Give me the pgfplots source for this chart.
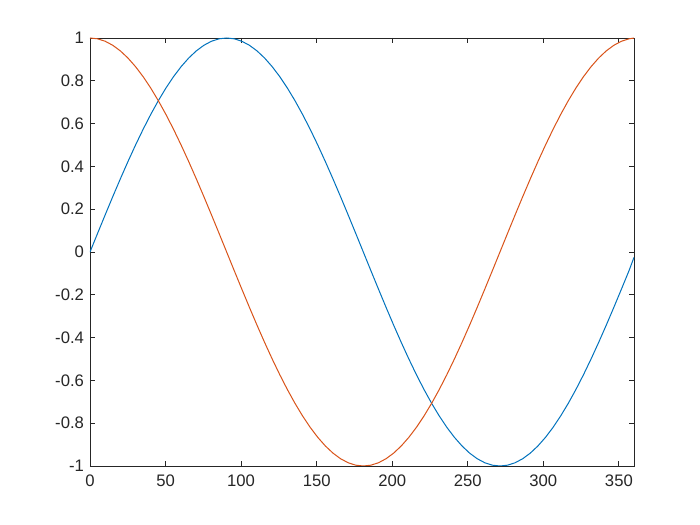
\documentclass[border=0pt]{standalone}
\usepackage{pgfplots}
\pgfplotsset{compat=1.18}
\usepackage{fontspec}
\setmainfont{Liberation Sans}
\definecolor{mblue}{rgb}{0,0.447,0.741}
\definecolor{morange}{rgb}{0.85,0.325,0.098}
\definecolor{maxis}{rgb}{0.15,0.15,0.15}
\pgfplotstableread{
x y
0 0
5.024 0.0872
10.048 0.1736
15.072 0.2588
20.096 0.3420
25.12 0.4226
30.144 0.5
35.168 0.5736
40.192 0.6428
45.216 0.7071
50.24 0.7660
55.264 0.8192
60.288 0.8660
65.312 0.9063
70.336 0.9397
75.36 0.9659
80.384 0.9848
85.408 0.9962
90.432 1
95.456 0.9962
100.48 0.9848
105.504 0.9659
110.528 0.9397
115.552 0.9063
120.576 0.8660
125.6 0.8192
130.624 0.7660
135.648 0.7071
140.672 0.6428
145.696 0.5736
150.72 0.5
155.744 0.4226
160.768 0.3420
165.792 0.2588
170.816 0.1736
175.84 0.0872
180.864 0
185.888 -0.0872
190.912 -0.1736
195.936 -0.2588
200.96 -0.3420
205.984 -0.4226
211.008 -0.5
216.032 -0.5736
221.056 -0.6428
226.08 -0.7071
231.104 -0.7660
236.128 -0.8192
241.152 -0.8660
246.176 -0.9063
251.2 -0.9397
256.224 -0.9659
261.248 -0.9848
266.272 -0.9962
271.296 -1
276.32 -0.9962
281.344 -0.9848
286.368 -0.9659
291.392 -0.9397
296.416 -0.9063
301.44 -0.8660
306.464 -0.8192
311.488 -0.7660
316.512 -0.7071
321.536 -0.6428
326.56 -0.5736
331.584 -0.5
336.608 -0.4226
341.632 -0.3420
346.656 -0.2588
351.68 -0.1736
356.704 -0.0872
360 -0.025
}\sintab
\pgfplotstableread{
x y
0 1
5.024 0.9962
10.048 0.9848
15.072 0.9659
20.096 0.9397
25.12 0.9063
30.144 0.8660
35.168 0.8192
40.192 0.7660
45.216 0.7071
50.24 0.6428
55.264 0.5736
60.288 0.5
65.312 0.4226
70.336 0.3420
75.36 0.2588
80.384 0.1736
85.408 0.0872
90.432 0
95.456 -0.0872
100.48 -0.1736
105.504 -0.2588
110.528 -0.3420
115.552 -0.4226
120.576 -0.5
125.6 -0.5736
130.624 -0.6428
135.648 -0.7071
140.672 -0.7660
145.696 -0.8192
150.72 -0.8660
155.744 -0.9063
160.768 -0.9397
165.792 -0.9659
170.816 -0.9848
175.84 -0.9962
180.864 -1
185.888 -0.9962
190.912 -0.9848
195.936 -0.9659
200.96 -0.9397
205.984 -0.9063
211.008 -0.8660
216.032 -0.8192
221.056 -0.7660
226.08 -0.7071
231.104 -0.6428
236.128 -0.5736
241.152 -0.5
246.176 -0.4226
251.2 -0.3420
256.224 -0.2588
261.248 -0.1736
266.272 -0.0872
271.296 0
276.32 0.0872
281.344 0.1736
286.368 0.2588
291.392 0.3420
296.416 0.4226
301.44 0.5
306.464 0.5736
311.488 0.6428
316.512 0.7071
321.536 0.7660
326.56 0.8192
331.584 0.8660
336.608 0.9063
341.632 0.9397
346.656 0.9659
351.68 0.9848
356.704 0.9962
360 0.9997
}\costab
\begin{document}
\begin{tikzpicture}
\fill[white] (0,0) rectangle (525pt,393.75pt);
\begin{axis}[
  at={(67.5pt,44.25pt)}, anchor=south west,
  scale only axis, width=408pt, height=321pt,
  xmin=0, xmax=360, ymin=-1, ymax=1,
  xtick={0,50,...,350},
  ytick={-1,-0.8,-0.6,-0.4,-0.2,0,0.2,0.4,0.6,0.8,1},
  xticklabels={0,50,100,150,200,250,300,350},
  yticklabels={-1,-0.8,-0.6,-0.4,-0.2,0,0.2,0.4,0.6,0.8,1},
  tick align=inside, major tick length=3.75pt,
  axis line style={maxis, line width=0.6pt},
  every tick/.style={maxis, line width=0.6pt},
  tick label style={font=\fontsize{12.5}{15}\selectfont, text=maxis},
  xticklabel style={yshift=-3pt},
  yticklabel style={xshift=-1pt},
  axis background/.style={fill=white},
]
\addplot[mblue, line width=0.75pt, no markers] table {\sintab};
\addplot[morange, line width=0.75pt, no markers] table {\costab};
\end{axis}
\end{tikzpicture}
\end{document}
